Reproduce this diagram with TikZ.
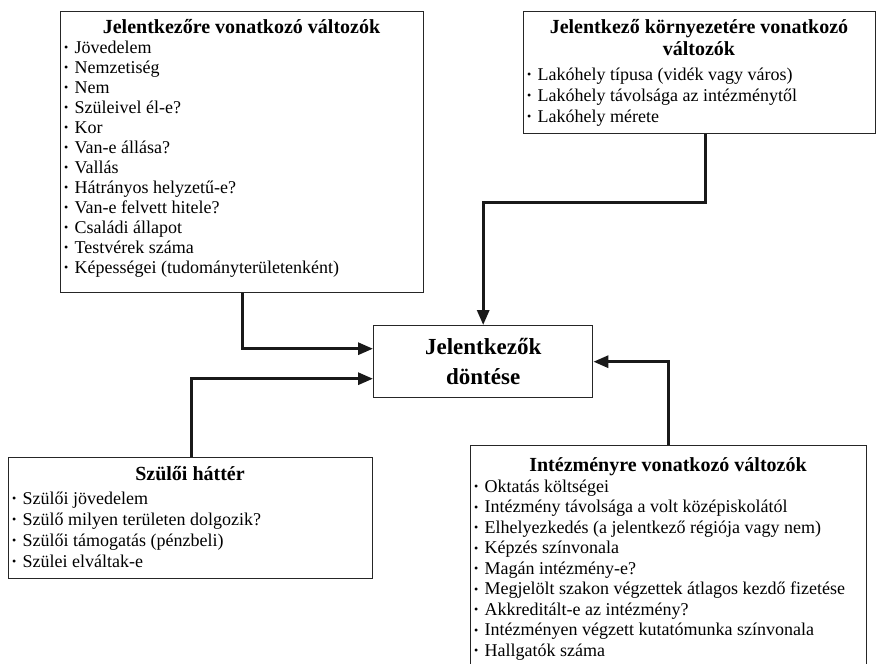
\documentclass[tikz,border=0pt]{standalone}
\usepackage{fontspec}
\setmainfont{Liberation Serif}
\usetikzlibrary{arrows.meta}
\newcommand{\bul}{{\fontsize{12}{12}\selectfont\raisebox{0.2ex}{•}}\hspace{0.35em}}
\begin{document}
\begin{tikzpicture}[x=1pt,y=-1pt,
  box/.style={draw=black!85, line width=1.4pt, inner sep=0pt, anchor=north west},
  ttl/.style={font=\fontsize{20}{22}\selectfont\bfseries, anchor=base, inner sep=0pt},
  itm/.style={font=\fontsize{18}{20}\selectfont, anchor=base west, inner sep=0pt},
  conn/.style={draw=black!90, line width=3pt, -{Triangle[length=15pt,width=12pt]}}]
\clip (0,0) rectangle (876,664);
\fill[white] (0,0) rectangle (876,664);

% boxes
\node[box, minimum width=363pt, minimum height=281pt] (b1) at (60,11) {};
\node[box, minimum width=352pt, minimum height=122pt] (b2) at (523,11) {};
\node[box, minimum width=364pt, minimum height=121pt] (b3) at (8,457) {};
\node[box, minimum width=396pt, minimum height=240pt] (b4) at (470,445) {};
\node[box, minimum width=219pt, minimum height=72pt] (bc) at (373,325) {};

% center text
\node[font=\fontsize{23}{30}\selectfont\bfseries, align=center, inner sep=0pt] (bct) at (bc.center) {Jelentkezők\\döntése};

% box 1
\node[ttl] (b1t) at (241.5,33) {Jelentkezőre vonatkozó változók};
\foreach [count=\i] \t in {{Jövedelem},{Nemzetiség},{Nem},{Szüleivel él-e?},{Kor},{Van-e állása?},{Vallás},{Hátrányos helyzetű-e?},{Van-e felvett hitele?},{Családi állapot},{Testvérek száma},{Képességei (tudományterületenként)}}
  \node[itm] (b1i\i) at (64,{53+20*(\i-1)}) {\bul\t};

% box 2
\node[ttl] (b2t1) at (699,33) {Jelentkező környezetére vonatkozó};
\node[ttl] (b2t2) at (699,55) {változók};
\foreach [count=\i] \t in {{Lakóhely típusa (vidék vagy város)},{Lakóhely távolsága az intézménytől},{Lakóhely mérete}}
  \node[itm] (b2i\i) at (527,{80+21*(\i-1)}) {\bul\t};

% box 3
\node[ttl] (b3t) at (190,480) {Szülői háttér};
\foreach [count=\i] \t in {{Szülői jövedelem},{Szülő milyen területen dolgozik?},{Szülői támogatás (pénzbeli)},{Szülei elváltak-e}}
  \node[itm] (b3i\i) at (12,{504+21*(\i-1)}) {\bul\t};

% box 4
\node[ttl] (b4t) at (668,471) {Intézményre vonatkozó változók};
\foreach [count=\i] \t in {{Oktatás költségei},{Intézmény távolsága a volt középiskolától},{Elhelyezkedés (a jelentkező régiója vagy nem)},{Képzés színvonala},{Magán intézmény-e?},{Megjelölt szakon végzettek átlagos kezdő fizetése},{Akkreditált-e az intézmény?},{Intézményen végzett kutatómunka színvonala},{Hallgatók száma}}
  \node[itm] (b4i\i) at (474,{492+20.5*(\i-1)}) {\bul\t};

% connectors
\draw[conn] ([xshift=182pt]b1.south west) |- ([yshift=13pt]bc.west);
\draw[conn] ([xshift=182pt]b2.south west) -- ++(0,68) -| (bc.north);
\draw[conn] ([xshift=183pt]b3.north west) |- ([yshift=-17pt]bc.west);
\draw[conn] ([xshift=198pt]b4.north west) |- (bc.east);
\end{tikzpicture}
\end{document}
